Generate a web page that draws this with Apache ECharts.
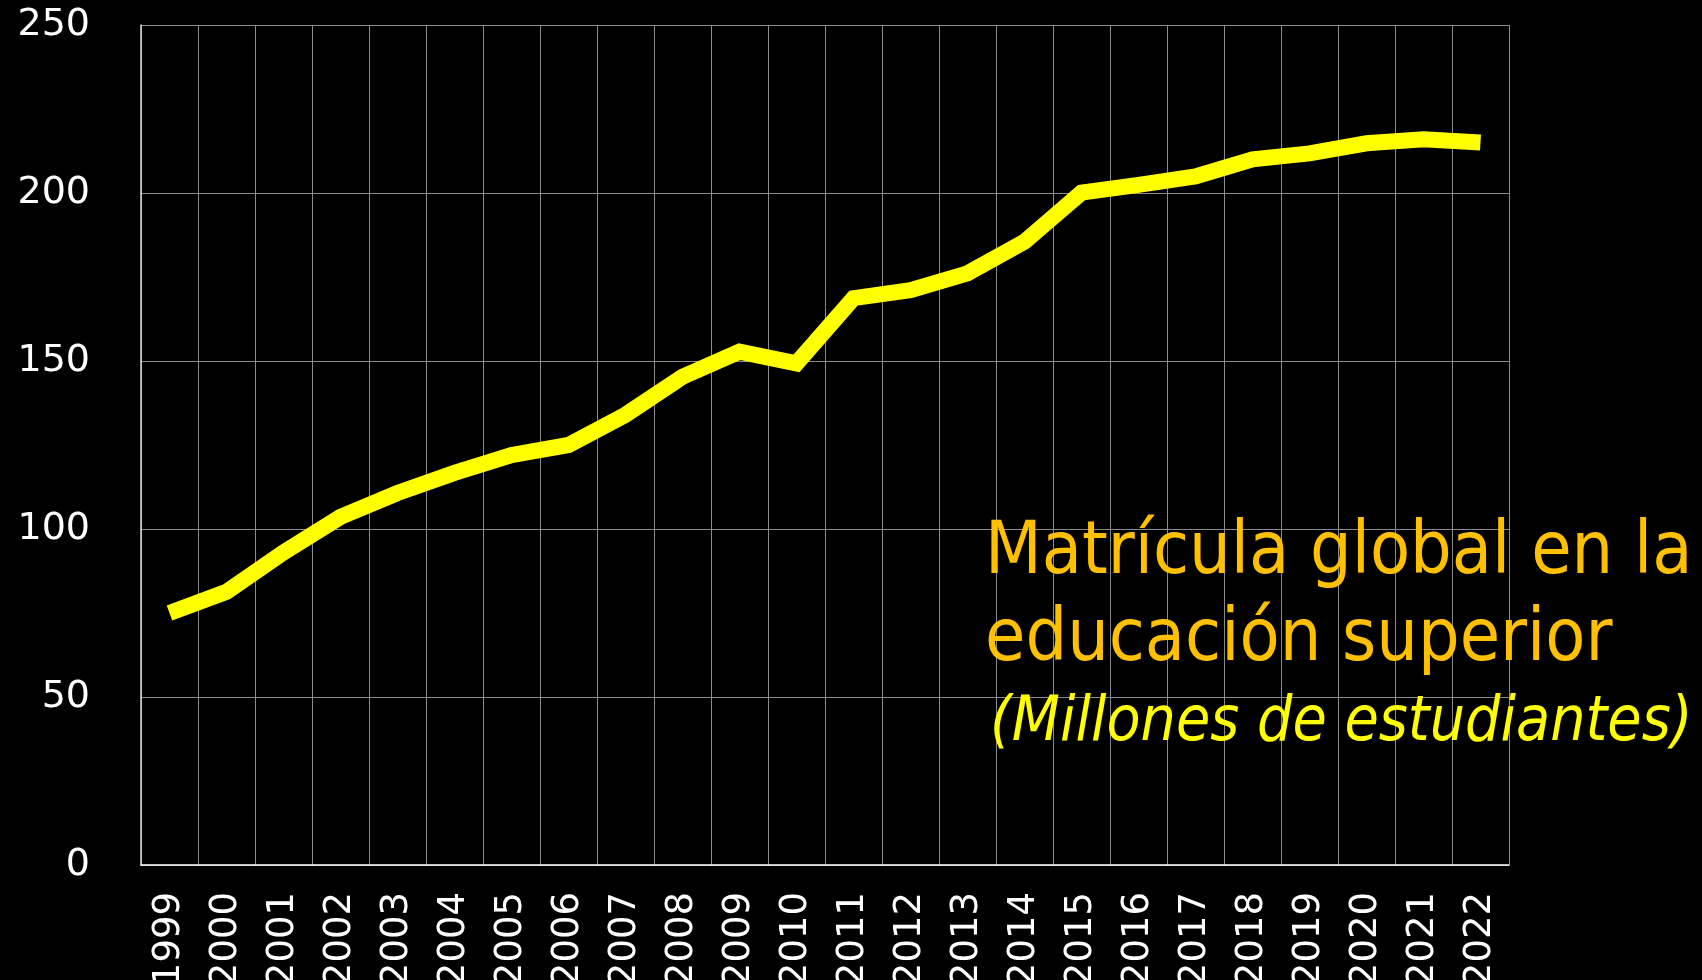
<!DOCTYPE html>
<html style="height: 100%">
   <head>
       <meta charset="utf-8">
   </head>
   <body style="height: 100%; margin: 0; background: #000">
       <div id="container" style="height: 100%"></div>
       <script type="text/javascript" src="https://cdn.jsdelivr.net/npm/echarts@6/dist/echarts.min.js"></script>
	<script type="text/javascript">
		// years on the x axis
		var years = ['1999', '2000', '2001', '2002', '2003', '2004', '2005', '2006',
		    '2007', '2008', '2009', '2010', '2011', '2012', '2013', '2014',
		    '2015', '2016', '2017', '2018', '2019', '2020', '2021', '2022'];
		// matricula global, millones de estudiantes
		var matricula = [75, 81.3, 93, 103.6, 110.7, 116.7, 122, 125,
		    134, 145.3, 152.8, 149.3, 168.7, 171.1, 176.1, 185.5,
		    200.1, 202.4, 204.9, 210, 211.8, 214.8, 216, 215];
		var titleLines = ['Matrícula global en la', 'educación superior'];
		var subTitle = '(Millones de estudiantes)';

		var dom = document.getElementById("container");
		var myChart = echarts.init(dom);
		var narrow = "'DejaVu Sans Condensed', 'Liberation Sans Narrow', sans-serif";
		var option = {
		    backgroundColor: '#000',
		    animation: false,
		    title: [
			{
			    text: titleLines[0],
			    left: 985, top: 518, padding: 0,
			    textStyle: {color: '#FFC000', fontSize: 73, fontWeight: 'normal', fontFamily: narrow, lineHeight: 73}
			},
			{
			    text: titleLines[1],
			    left: 985, top: 605, padding: 0,
			    textStyle: {color: '#FFC000', fontSize: 73, fontWeight: 'normal', fontFamily: narrow, lineHeight: 73}
			},
			{
			    text: subTitle,
			    left: 990, top: 693, padding: 0,
			    textStyle: {color: '#FFFF00', fontSize: 62, fontWeight: 'normal', fontStyle: 'italic', fontFamily: narrow, lineHeight: 62}
			}
		    ],
		    grid: {left: 141, top: 25, right: 193, bottom: 115, outerBoundsMode: 'none'},
		    xAxis: {
			type: 'category',
			data: years,
			boundaryGap: true,
			axisLine: {lineStyle: {color: '#fff', width: 1.5}},
			axisTick: {show: false},
			axisLabel: {
			    rotate: 90, margin: 27, interval: 0, padding: [18, 0, 0, 0],
			    color: '#fff', fontSize: 37, fontFamily: 'DejaVu Sans'
			},
			splitLine: {show: true, interval: 0, lineStyle: {color: '#8a8a8a', width: 1}}
		    },
		    yAxis: {
			type: 'value',
			min: 0, max: 250, interval: 50,
			axisLine: {show: true, lineStyle: {color: '#ddd', width: 1.5}},
			axisTick: {show: false},
			axisLabel: {margin: 51, padding: [8, 0, 0, 0], color: '#fff', fontSize: 38, fontFamily: 'DejaVu Sans'},
			splitLine: {lineStyle: {color: '#8a8a8a', width: 1}}
		    },
		    series: [
			{
			    type: 'line',
			    data: matricula,
			    showSymbol: false,
			    lineStyle: {color: '#FFFF00', width: 16, cap: 'butt', join: 'miter'},
			    z: 5
			}
		    ]
		};
		myChart.setOption(option);
		window.onresize = myChart.resize;
	</script>
   </body>
</html>
